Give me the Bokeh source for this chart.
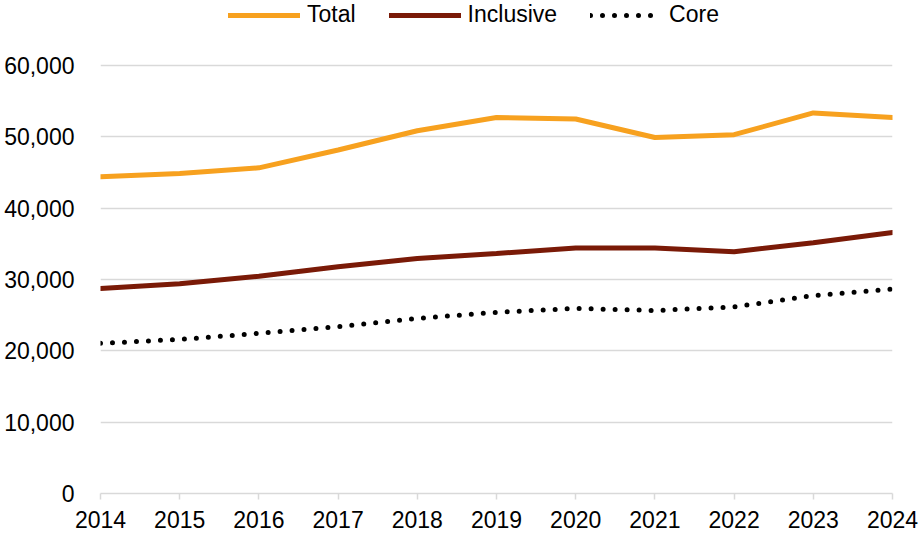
from bokeh.plotting import figure
from bokeh.models import Range1d, Legend, LegendItem, NumeralTickFormatter, FixedTicker
from bokeh.embed import file_html
from bokeh.resources import INLINE

years = [2014, 2015, 2016, 2017, 2018, 2019, 2020, 2021, 2022, 2023, 2024]
total = [44400, 44850, 45650, 48150, 50850, 52700, 52500, 49900, 50300, 53350, 52700]
inclusive = [28750, 29400, 30450, 31800, 32950, 33650, 34400, 34400, 33900, 35150, 36600]
core = [21050, 21600, 22450, 23400, 24550, 25400, 25950, 25650, 26150, 27750, 28650]
y_ticks = [0, 10000, 20000, 30000, 40000, 50000, 60000]

FONT = "Liberation Sans"
FS = "23px"

# frame spans the full top (legend sits inside it); 60,000 lands ~65 px from the top
Y_TOP = 60000 * 493 / 428

p = figure(width=919, height=536, output_backend="svg", toolbar_location=None,
           x_range=Range1d(2014, 2024), y_range=Range1d(0, Y_TOP),
           min_border_left=100, min_border_right=27, min_border_top=0, min_border_bottom=43)
p.outline_line_color = None
p.background_fill_color = "white"
p.border_fill_color = "white"

r_total = p.line(years, total, line_color="#F7A11F", line_width=5, line_cap="round")
r_incl = p.line(years, inclusive, line_color="#7A1A07", line_width=5, line_cap="round")
r_core = p.line(years, core, line_color="black", line_width=5, line_dash="0 12", line_cap="round")

p.xgrid.grid_line_color = None
p.ygrid.grid_line_color = "#D9D9D9"
p.ygrid.grid_line_width = 1.5
p.ygrid.ticker = FixedTicker(ticks=y_ticks)

p.yaxis.ticker = FixedTicker(ticks=y_ticks)
p.yaxis.formatter = NumeralTickFormatter(format="0,0")
p.yaxis.axis_line_color = None
p.yaxis.major_tick_line_color = None
p.yaxis.minor_tick_line_color = None
p.yaxis.major_label_standoff = 20
p.yaxis.major_label_text_font = FONT
p.yaxis.major_label_text_font_size = FS
p.yaxis.major_label_text_color = "black"

p.xaxis.ticker = FixedTicker(ticks=years)
p.xaxis.axis_line_color = "#D9D9D9"
p.xaxis.axis_line_width = 1.5
p.xaxis.major_tick_line_color = "#D9D9D9"
p.xaxis.major_tick_line_width = 1.5
p.xaxis.major_tick_out = 6
p.xaxis.major_tick_in = 0
p.xaxis.minor_tick_line_color = None
p.xaxis.major_label_standoff = 11
p.xaxis.major_label_text_font = FONT
p.xaxis.major_label_text_font_size = FS
p.xaxis.major_label_text_color = "black"

legend = Legend(items=[LegendItem(label="Total", renderers=[r_total]),
                       LegendItem(label="Inclusive", renderers=[r_incl]),
                       LegendItem(label="Core", renderers=[r_core])],
                orientation="horizontal", location=(128, 465),
                label_text_font=FONT, label_text_font_size=FS, label_text_color="black",
                glyph_width=72, glyph_height=24, spacing=33, label_standoff=7,
                padding=0, margin=0, border_line_color=None, background_fill_alpha=0)
p.add_layout(legend, "center")

open("out.html", "w").write(file_html(p, INLINE))
